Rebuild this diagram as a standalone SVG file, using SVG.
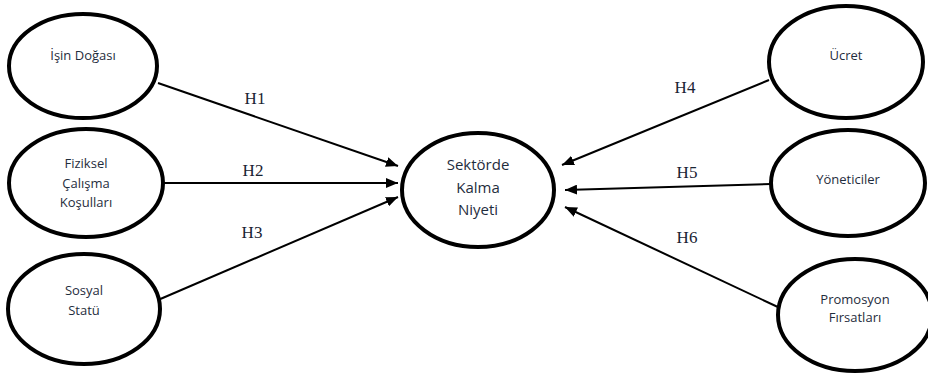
<svg xmlns="http://www.w3.org/2000/svg" width="928" height="373" viewBox="0 0 928 373">
<defs>
<marker id="ah" viewBox="0 0 12 10" refX="12" refY="5" markerWidth="12" markerHeight="10" markerUnits="userSpaceOnUse" orient="auto">
<path d="M0,0 L12,5 L0,10 Z" fill="#000"/>
</marker>
<style>
.n{fill:#fff;stroke:#000;stroke-width:4}
.t{font-family:"Open Sans","Liberation Sans",sans-serif;font-size:13px;fill:#1f2d3d;text-anchor:middle}
.tc{font-size:15px}
.c{stroke:#000;stroke-width:2;fill:none;marker-end:url(#ah)}
.h{font-family:"Liberation Serif","Times New Roman",serif;font-size:17px;fill:#1a2433;text-anchor:middle}
</style>
</defs>
<rect width="928" height="373" fill="#fff"/>
<g id="connectors">
<line class="c" x1="158" y1="83" x2="398" y2="166"/>
<line class="c" x1="163" y1="183" x2="398" y2="183"/>
<line class="c" x1="158" y1="300" x2="398" y2="197"/>
<line class="c" x1="769" y1="80" x2="562" y2="165"/>
<line class="c" x1="771" y1="184" x2="565" y2="190"/>
<line class="c" x1="780" y1="308" x2="565" y2="207"/>
<text class="h" x="255" y="104">H1</text>
<text class="h" x="253" y="176">H2</text>
<text class="h" x="252" y="238">H3</text>
<text class="h" x="685" y="93">H4</text>
<text class="h" x="687" y="178">H5</text>
<text class="h" x="687" y="243">H6</text>
</g>
<g id="isin-dogasi">
<ellipse class="n" cx="83" cy="66" rx="74" ry="52"/>
<text class="t" x="83" y="60">İşin Doğası</text>
</g>
<g id="fiziksel">
<ellipse class="n" cx="86" cy="183" rx="77" ry="54"/>
<text class="t" x="86" y="168">Fiziksel</text>
<text class="t" x="86" y="188">Çalışma</text>
<text class="t" x="86" y="207">Koşulları</text>
</g>
<g id="sosyal">
<ellipse class="n" cx="84" cy="309" rx="76" ry="55"/>
<text class="t" x="84" y="295">Sosyal</text>
<text class="t" x="84" y="315">Statü</text>
</g>
<g id="sektorde">
<ellipse class="n" cx="478" cy="190" rx="76" ry="57"/>
<text class="t tc" x="478" y="170">Sektörde</text>
<text class="t tc" x="478" y="193">Kalma</text>
<text class="t tc" x="478" y="215">Niyeti</text>
</g>
<g id="ucret">
<ellipse class="n" cx="846" cy="62" rx="77" ry="56"/>
<text class="t" x="846" y="60">Ücret</text>
</g>
<g id="yoneticiler">
<ellipse class="n" cx="848" cy="183" rx="77" ry="53"/>
<text class="t" x="848" y="184">Yöneticiler</text>
</g>
<g id="promosyon">
<ellipse class="n" cx="855" cy="315" rx="77" ry="56"/>
<text class="t" x="855" y="304">Promosyon</text>
<text class="t" x="855" y="322">Fırsatları</text>
</g>
</svg>
